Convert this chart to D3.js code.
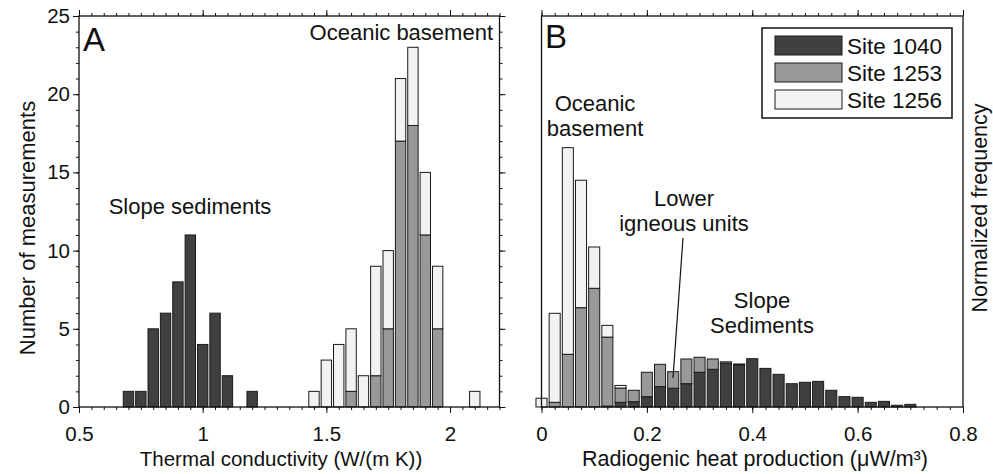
<!DOCTYPE html>
<html>
<head>
<meta charset="UTF-8">
<title>Thermal conductivity and radiogenic heat production</title>
<script src="https://d3js.org/d3.v7.min.js"></script>
<style>
  body { margin: 0; background: #fff; }
  svg text { font-family: "Liberation Sans", Arial, sans-serif; fill: #111; }
  .axis path { display: none; }
  .axis line { stroke: #111; stroke-width: 1; }
</style>
</head>
<body>
<div id="chart"></div>
<script>
// ---- data ----
// Panel A: thermal conductivity histogram (counts), bin centres in W/(m K)
const thermalBins = [0.7, 0.75, 0.8, 0.85, 0.9, 0.95, 1.0, 1.05, 1.1, 1.15, 1.2, 1.25, 1.3, 1.35, 1.4,
                     1.45, 1.5, 1.55, 1.6, 1.65, 1.7, 1.75, 1.8, 1.85, 1.9, 1.95, 2.0, 2.05, 2.1];
const thermal1040 = [1, 1, 5, 6, 8, 11, 4, 6, 2, 0, 1, 0, 0, 0, 0,
                     0, 0, 0, 0, 0, 0, 0, 0, 0, 0, 0, 0, 0, 0];
const thermal1253 = [0, 0, 0, 0, 0, 0, 0, 0, 0, 0, 0, 0, 0, 0, 0,
                     0, 0, 0, 1, 0, 2, 5, 17, 18, 11, 5, 0, 0, 0];
const thermal1256 = [0, 0, 0, 0, 0, 0, 0, 0, 0, 0, 0, 0, 0, 0, 0,
                     1, 3, 4, 4, 2, 7, 5, 4, 5, 4, 4, 0, 0, 1];

// Panel B: radiogenic heat production histogram (normalized), bin centres in µW/m³
const heatBins = [0, 0.025, 0.05, 0.075, 0.1, 0.125, 0.15, 0.175, 0.2, 0.225, 0.25, 0.275, 0.3, 0.325, 0.35,
                  0.375, 0.4, 0.425, 0.45, 0.475, 0.5, 0.525, 0.55, 0.575, 0.6, 0.625, 0.65, 0.675, 0.7];
const heat1040 = [0, 0, 0, 0, 0, 0.06, 0.3, 0.34, 0.66, 1.3, 1.2, 1.49, 2.22, 2.41, 2.79,
                  2.7, 3.09, 2.47, 2.09, 1.49, 1.58, 1.64, 1.07, 0.66, 0.62, 0.3, 0.36, 0.11, 0.17];
const heat1253 = [0, 0.3, 3.37, 6.35, 7.59, 4.41, 0.91, 0.73, 1.56, 1.43, 1.06, 1.58, 0.96, 0.66, 0.1,
                  0.05, 0, 0, 0, 0, 0, 0, 0, 0, 0, 0, 0, 0, 0];
const heat1256 = [0.56, 5.69, 13.21, 8.15, 2.64, 0.75, 0.17, 0, 0, 0, 0, 0, 0, 0, 0,
                  0, 0, 0, 0, 0, 0, 0, 0, 0, 0, 0, 0, 0, 0];

const siteNames = ["Site 1040", "Site 1253", "Site 1256"];
const siteColors = ["#404040", "#999999", "#f2f2f2"];
const countTicks = [0, 5, 10, 15, 20, 25];
const thermalTicks = [0.5, 1, 1.5, 2];
const heatTicks = [0, 0.2, 0.4, 0.6, 0.8];

// ---- layout ----
const width = 993, height = 474;
const plotTop = 16, plotBottom = 407;

const svg = d3.select("#chart").append("svg")
    .attr("width", width)
    .attr("height", height);

const y = d3.scaleLinear().domain([0, 25]).range([plotBottom, plotTop]);
const xA = d3.scaleLinear().domain([0.5, 2.2]).range([79, 499.5]);
const xB = d3.scaleLinear().domain([0, 0.8]).range([541.5, 963]);

function drawBars(x, bins, series, binWidth) {
    const keys = ["s0", "s1", "s2"];
    const rows = bins.map((b, i) => ({ bin: b, s0: series[0][i], s1: series[1][i], s2: series[2][i] }));
    const stacked = d3.stack().keys(keys)(rows);
    const w = (x(binWidth) - x(0)) * 0.84;

    svg.append("g").selectAll("g")
        .data(stacked)
        .join("g")
        .attr("fill", (d, i) => siteColors[i])
        .selectAll("rect")
        .data(d => d.filter(p => p[1] - p[0] > 0))
        .join("rect")
        .attr("x", d => x(d.data.bin) - w / 2)
        .attr("y", d => y(d[1]))
        .attr("width", w)
        .attr("height", d => y(d[0]) - y(d[1]))
        .attr("stroke", "#1a1a1a")
        .attr("stroke-width", 1);
}

function drawFrame(x, minorStep, majorTicks, yTicks) {
    const [x0, x1] = x.range();
    const dom = x.domain();
    const nMinor = Math.round((dom[1] - dom[0]) / minorStep);
    const minor = d3.range(nMinor + 1).map(i => dom[0] + i * minorStep);

    // bottom
    svg.append("g").attr("class", "axis").attr("transform", `translate(0,${plotBottom})`)
        .call(d3.axisBottom(x).tickValues(minor).tickSize(3).tickFormat(""));
    const bAx = svg.append("g").attr("class", "axis").attr("transform", `translate(0,${plotBottom})`)
        .call(d3.axisBottom(x).tickValues(majorTicks).tickSize(6).tickFormat(d3.format("")));
    bAx.selectAll("text").attr("y", 34).attr("dy", 0).style("font-size", "20.5px");

    // top
    svg.append("g").attr("class", "axis").attr("transform", `translate(0,${plotTop})`)
        .call(d3.axisTop(x).tickValues(minor).tickSize(3).tickFormat(""));
    svg.append("g").attr("class", "axis").attr("transform", `translate(0,${plotTop})`)
        .call(d3.axisTop(x).tickValues(majorTicks).tickSize(6).tickFormat(""));

    if (yTicks) {
        const yMinor = d3.range(26);
        svg.append("g").attr("class", "axis").attr("transform", `translate(${x0},0)`)
            .call(d3.axisLeft(y).tickValues(yMinor).tickSize(3).tickFormat(""));
        const lAx = svg.append("g").attr("class", "axis").attr("transform", `translate(${x0},0)`)
            .call(d3.axisLeft(y).tickValues(yTicks).tickSize(6));
        lAx.selectAll("text").attr("x", -9).style("font-size", "20.5px");
        svg.append("g").attr("class", "axis").attr("transform", `translate(${x1},0)`)
            .call(d3.axisRight(y).tickValues(yMinor).tickSize(3).tickFormat(""));
        svg.append("g").attr("class", "axis").attr("transform", `translate(${x1},0)`)
            .call(d3.axisRight(y).tickValues(yTicks).tickSize(6).tickFormat(""));
    }

    svg.append("rect")
        .attr("x", x0).attr("y", plotTop)
        .attr("width", x1 - x0).attr("height", plotBottom - plotTop)
        .attr("fill", "none").attr("stroke", "#111").attr("stroke-width", 1.3);
}

// ---- panel A ----
drawBars(xA, thermalBins, [thermal1040, thermal1253, thermal1256], 0.05);
drawFrame(xA, 0.05, thermalTicks, countTicks);

// ---- panel B ----
drawBars(xB, heatBins, [heat1040, heat1253, heat1256], 0.025);
drawFrame(xB, 0.025, heatTicks, null);

// ---- axis titles ----
svg.append("text").attr("x", 281).attr("y", 466).attr("text-anchor", "middle")
    .style("font-size", "20.5px").text("Thermal conductivity (W/(m K))");
svg.append("text").attr("x", 755).attr("y", 466).attr("text-anchor", "middle")
    .style("font-size", "21.5px").text("Radiogenic heat production (μW/m³)");
svg.append("text").attr("transform", "translate(35,228) rotate(-90)").attr("text-anchor", "middle")
    .style("font-size", "22px").text("Number of measurements");
svg.append("text").attr("transform", "translate(987,208) rotate(-90)").attr("text-anchor", "middle")
    .style("font-size", "21.5px").text("Normalized frequency");

// ---- panel letters & annotations ----
svg.append("text").attr("x", 83).attr("y", 51).style("font-size", "33px").text("A");
svg.append("text").attr("x", 545).attr("y", 48).style("font-size", "33px").text("B");

function label(lines, cx, y0, anchor) {
    const t = svg.append("text").attr("text-anchor", anchor || "middle").style("font-size", "22px");
    lines.forEach((s, i) => t.append("tspan").attr("x", cx).attr("y", y0 + i * 25).text(s));
}
label(["Oceanic basement"], 493, 40, "end");
label(["Slope sediments"], 190, 214);
label(["Oceanic", "basement"], 595, 111);
label(["Lower", "igneous units"], 684, 206);
label(["Slope", "Sediments"], 762, 308);

svg.append("line")
    .attr("x1", 683).attr("y1", 238).attr("x2", 673).attr("y2", 378)
    .attr("stroke", "#111").attr("stroke-width", 1.2);

// ---- legend ----
const legend = svg.append("g");
legend.append("rect")
    .attr("x", 762).attr("y", 28).attr("width", 190).attr("height", 90)
    .attr("fill", "#fff").attr("stroke", "#111").attr("stroke-width", 1.5);
siteNames.forEach((name, i) => {
    const ry = 36 + i * 27;
    legend.append("rect")
        .attr("x", 775).attr("y", ry).attr("width", 67).attr("height", 19)
        .attr("fill", siteColors[i]).attr("stroke", "#1a1a1a").attr("stroke-width", 1);
    legend.append("text").attr("x", 847).attr("y", ry + 18)
        .style("font-size", "22.5px").text(name);
});
</script>
</body>
</html>
